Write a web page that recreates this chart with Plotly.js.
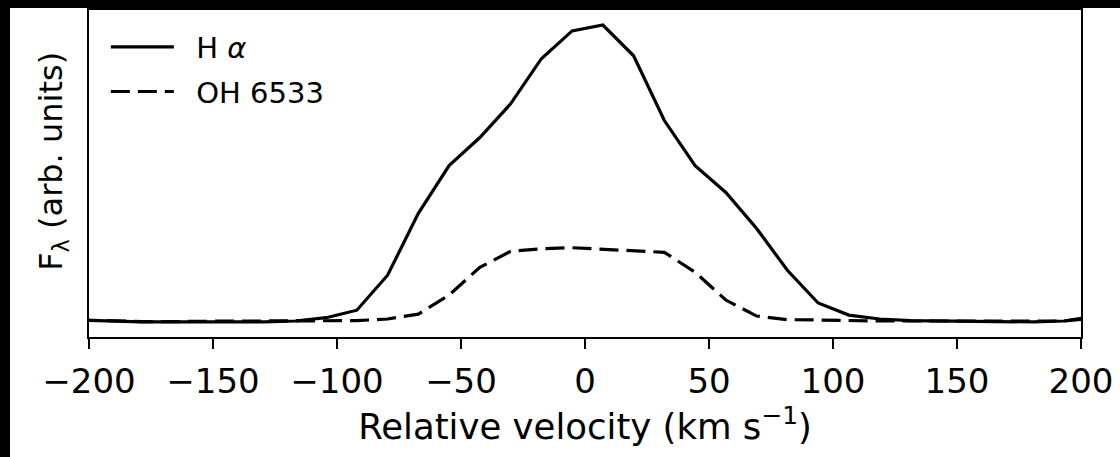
<!DOCTYPE html>
<html>
<head>
<meta charset="utf-8">
<script src="https://cdn.plot.ly/plotly-3.0.1.min.js"></script>
<style>
  html { background: #fff; margin: 0; padding: 0; }
  body { margin: 0; padding: 0; background: #fff; overflow: hidden; }
  #leftstrip { position: fixed; left: 0; top: 0; width: 10px; height: 100vh; background: #000; z-index: 5; }
  #topstrip { position: fixed; left: 0; top: 0; width: 100vw; height: 8px; background: #000; z-index: 5; }
  #chart { position: absolute; left: 10px; top: 8px; width: 1110px; height: 449px; background: #fff; }
</style>
</head>
<body>
<div id="chart"></div>
<div id="leftstrip"></div>
<div id="topstrip"></div>
<script>
// Relative velocity grid (km/s)
const velocity = [-203.6, -191.2, -178.8, -166.4, -154.0, -141.6, -129.2, -116.8, -104.4, -92.0,
                  -79.6, -67.2, -54.8, -42.4, -30.0, -17.6, -5.2, 7.2, 19.6, 32.0,
                  44.4, 56.8, 69.2, 81.6, 94.0, 106.4, 118.8, 131.2, 143.6, 156.0,
                  168.4, 180.8, 193.2, 205.6];
// H alpha profile (arb. units)
const halpha = [0.052, 0.049, 0.046, 0.046, 0.046, 0.047, 0.046, 0.049, 0.059, 0.082,
                0.189, 0.378, 0.524, 0.610, 0.713, 0.851, 0.936, 0.954, 0.860, 0.662,
                0.524, 0.442, 0.332, 0.204, 0.104, 0.067, 0.055, 0.050, 0.049, 0.047,
                0.046, 0.046, 0.049, 0.064];
// OH 6533 profile (arb. units)
const oh6533 = [0.052, 0.049, 0.047, 0.047, 0.049, 0.049, 0.049, 0.049, 0.049, 0.050,
                0.055, 0.070, 0.128, 0.213, 0.262, 0.270, 0.273, 0.268, 0.265, 0.259,
                0.198, 0.113, 0.064, 0.053, 0.052, 0.050, 0.049, 0.049, 0.049, 0.049,
                0.049, 0.049, 0.049, 0.058];
const seriesNames = ['H <i>α</i>', 'OH 6533'];
const xTicks = [-200, -150, -100, -50, 0, 50, 100, 150, 200];
const xTitle = 'Relative velocity (km s<sup>\u22121</sup>)';
const yTitle = 'F<sub>λ</sub> (arb. units)';

const FONT = 'DejaVu Sans, sans-serif';
const GAP = '\u2002\u200A';

const traces = [
  { x: velocity, y: halpha, name: GAP + seriesNames[0], mode: 'lines', legendgroup: 'a',
    line: { color: '#000', width: 3.2 } },
  { x: velocity, y: oh6533, name: GAP + seriesNames[1], mode: 'lines', legendgroup: 'b',
    line: { color: '#000', width: 3.2, dash: '19px,8px' } }
];

const layout = {
  width: 1110, height: 449,
  margin: { l: 79, r: 39, t: 2, b: 120 },
  paper_bgcolor: '#fff', plot_bgcolor: '#fff',
  font: { family: FONT, color: '#000', size: 33 },
  showlegend: true,
  legend: {
    x: 0.017, y: 0.965, xanchor: 'left', yanchor: 'top',
    bgcolor: 'rgba(255,255,255,0)', borderwidth: 0,
    font: { family: FONT, size: 29, color: '#000' },
    itemwidth: 63, tracegroupgap: 4
  },
  xaxis: {
    range: [-200, 200], tickvals: xTicks,
    ticktext: xTicks.map(v => v < 0 ? '\u2212' + Math.abs(v) : String(v)),
    showgrid: false, zeroline: false,
    showline: true, linecolor: '#000', linewidth: 2, mirror: true,
    ticks: 'outside', ticklen: 10, tickwidth: 2, tickcolor: '#000',
    tickfont: { family: FONT, size: 34, color: '#000' },
    ticklabelstandoff: 3,
    title: { text: xTitle, font: { family: FONT, size: 35.5, color: '#000' }, standoff: 12 },
    automargin: false
  },
  yaxis: {
    range: [0, 1], showticklabels: false, ticks: '',
    showgrid: false, zeroline: false,
    showline: true, linecolor: '#000', linewidth: 2, mirror: true,
    automargin: false
  },
  annotations: [{
    text: yTitle, textangle: -90,
    xref: 'paper', yref: 'paper', x: -0.037, y: 0.5 + 12 / 327,
    xanchor: 'center', yanchor: 'middle', showarrow: false,
    font: { family: FONT, size: 32, color: '#000' }
  }]
};

Plotly.newPlot('chart', traces, layout, { displayModeBar: false, staticPlot: true });
</script>
</body>
</html>
